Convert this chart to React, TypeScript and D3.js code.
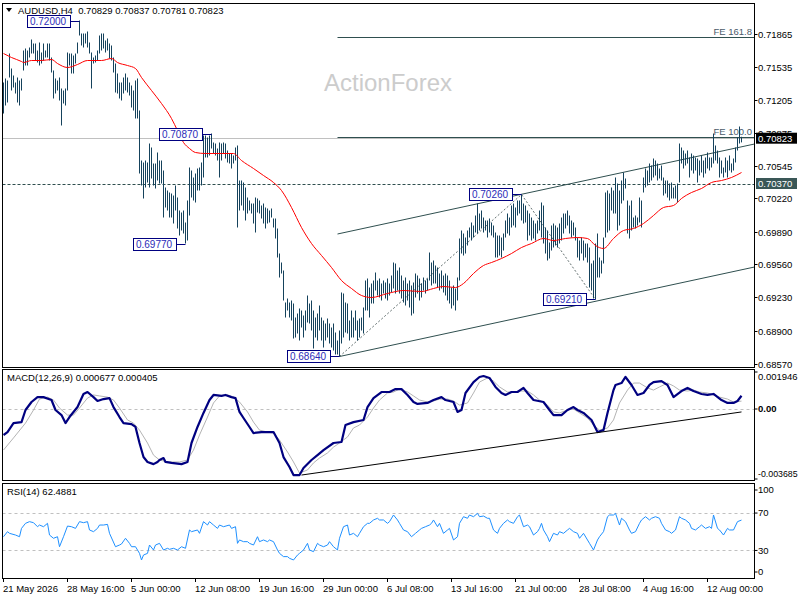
import * as d3 from 'd3';
import { useEffect, useRef } from 'react';

// [high, low] per H4 bar
const hlBars: [number, number][] = [
  [0.7138,0.7107],[0.7142,0.7115],[0.7140,0.7118],[0.7167,0.7143],[0.7152,0.7130],[0.7145,0.7133],[0.7138,0.7127],[0.7143,0.7118],[0.7140,0.7115],[0.7142,0.7130],
  [0.7170,0.7150],[0.7172,0.7155],[0.7170,0.7155],[0.7173,0.7163],[0.7181,0.7167],[0.7177,0.7167],[0.7177,0.7160],[0.7170,0.7158],[0.7178,0.7155],[0.7168,0.7157],
  [0.7177,0.7160],[0.7170,0.7163],[0.7177,0.7163],[0.7177,0.7160],[0.7163,0.7148],[0.7150,0.7122],[0.7142,0.7127],[0.7140,0.7130],[0.7143,0.7120],[0.7132,0.7095],
  [0.7130,0.7117],[0.7132,0.7115],[0.7168,0.7130],[0.7167,0.7155],[0.7167,0.7147],[0.7165,0.7147],[0.7167,0.7157],[0.7178,0.7167],[0.7200,0.7185],[0.7187,0.7175],
  [0.7187,0.7173],[0.7187,0.7177],[0.7189,0.7173],[0.7178,0.7167],[0.7168,0.7132],[0.7163,0.7157],[0.7165,0.7158],[0.7170,0.7160],[0.7185,0.7167],[0.7187,0.7170],
  [0.7187,0.7172],[0.7180,0.7168],[0.7182,0.7170],[0.7177,0.7162],[0.7175,0.7160],[0.7163,0.7148],[0.7157,0.7128],[0.7147,0.7127],[0.7138,0.7122],[0.7138,0.7120],
  [0.7143,0.7127],[0.7147,0.7130],[0.7143,0.7128],[0.7138,0.7125],[0.7135,0.7113],[0.7130,0.7110],[0.7140,0.7102],[0.7142,0.7102],[0.7110,0.7047],[0.7060,0.7035],
  [0.7058,0.7022],[0.7060,0.7033],[0.7058,0.7038],[0.7077,0.7033],[0.7073,0.7042],[0.7057,0.7035],[0.7057,0.7032],[0.7068,0.7040],[0.7060,0.7037],[0.7060,0.7037],
  [0.7050,0.7003],[0.7033,0.7013],[0.7030,0.7010],[0.7028,0.7003],[0.7027,0.7003],[0.7025,0.6997],[0.7035,0.7010],[0.7023,0.6992],[0.7010,0.6985],[0.7008,0.6990],
  [0.7010,0.6987],[0.6998,0.6977],[0.7020,0.6980],[0.7053,0.7005],[0.7050,0.7023],[0.7043,0.7020],[0.7047,0.7018],[0.7052,0.7030],[0.7053,0.7030],[0.7058,0.7035],
  [0.7085,0.7043],[0.7085,0.7063],[0.7083,0.7063],[0.7085,0.7065],[0.7087,0.7072],[0.7078,0.7067],[0.7077,0.7065],[0.7072,0.7060],[0.7078,0.7043],[0.7077,0.7060],
  [0.7078,0.7067],[0.7077,0.7062],[0.7070,0.7058],[0.7067,0.7057],[0.7067,0.7052],[0.7065,0.7057],[0.7073,0.7060],[0.7075,0.6993],[0.7040,0.7010],[0.7040,0.7015],
  [0.7038,0.7010],[0.7033,0.7000],[0.7023,0.7007],[0.7020,0.7010],[0.7017,0.7007],[0.7017,0.6997],[0.7023,0.6988],[0.7022,0.7008],[0.7020,0.7007],[0.7015,0.7002],
  [0.7017,0.6997],[0.7013,0.6992],[0.7012,0.6997],[0.7010,0.6998],[0.7012,0.7003],[0.7002,0.6993],[0.7002,0.6982],[0.6992,0.6963],[0.6967,0.6943],[0.6958,0.6947],
  [0.6950,0.6920],[0.6918,0.6903],[0.6922,0.6910],[0.6918,0.6903],[0.6920,0.6900],[0.6917,0.6882],[0.6903,0.6883],[0.6907,0.6887],[0.6912,0.6880],[0.6910,0.6893],
  [0.6905,0.6883],[0.6910,0.6890],[0.6925,0.6898],[0.6917,0.6897],[0.6920,0.6890],[0.6910,0.6872],[0.6903,0.6883],[0.6907,0.6880],[0.6915,0.6890],[0.6903,0.6880],
  [0.6900,0.6873],[0.6897,0.6880],[0.6902,0.6883],[0.6897,0.6877],[0.6893,0.6873],[0.6897,0.6870],[0.6888,0.6866],[0.6880,0.6866],[0.6890,0.6864],[0.6928,0.6877],
  [0.6927,0.6883],[0.6918,0.6888],[0.6917,0.6887],[0.6900,0.6880],[0.6910,0.6883],[0.6903,0.6883],[0.6910,0.6890],[0.6900,0.6880],[0.6902,0.6883],[0.6903,0.6890],
  [0.6913,0.6887],[0.6940,0.6910],[0.6942,0.6910],[0.6933,0.6903],[0.6937,0.6917],[0.6940,0.6917],[0.6948,0.6930],[0.6940,0.6925],[0.6942,0.6923],[0.6937,0.6920],
  [0.6940,0.6927],[0.6938,0.6922],[0.6942,0.6920],[0.6937,0.6925],[0.6945,0.6928],[0.6958,0.6932],[0.6957,0.6927],[0.6950,0.6930],[0.6953,0.6927],[0.6945,0.6922],
  [0.6940,0.6918],[0.6943,0.6915],[0.6937,0.6920],[0.6940,0.6913],[0.6935,0.6905],[0.6938,0.6907],[0.6947,0.6923],[0.6945,0.6927],[0.6942,0.6920],[0.6937,0.6923],
  [0.6943,0.6930],[0.6940,0.6927],[0.6942,0.6930],[0.6968,0.6940],[0.6958,0.6935],[0.6960,0.6937],[0.6955,0.6937],[0.6953,0.6933],[0.6947,0.6930],[0.6950,0.6932],
  [0.6945,0.6928],[0.6947,0.6925],[0.6945,0.6920],[0.6940,0.6917],[0.6933,0.6912],[0.6935,0.6915],[0.6932,0.6910],[0.6943,0.6920],[0.6982,0.6940],[0.6990,0.6967],
  [0.6987,0.6965],[0.6983,0.6967],[0.6990,0.6975],[0.6993,0.6983],[0.6998,0.6980],[0.6995,0.6983],[0.7005,0.6988],[0.7017,0.6987],[0.7007,0.6990],[0.7010,0.6992],
  [0.7003,0.6988],[0.7000,0.6990],[0.7000,0.6983],[0.7002,0.6988],[0.6998,0.6985],[0.6995,0.6983],[0.6988,0.6963],[0.6985,0.6963],[0.6985,0.6965],[0.6983,0.6963],
  [0.6987,0.6970],[0.7000,0.6983],[0.7007,0.6987],[0.7003,0.6985],[0.7015,0.6993],[0.7017,0.6995],[0.7013,0.6993],[0.7020,0.7005],[0.7020,0.7007],[0.7026,0.7000],
  [0.7017,0.6997],[0.7015,0.6998],[0.7010,0.6980],[0.7007,0.6985],[0.7003,0.6980],[0.7000,0.6982],[0.6997,0.6980],[0.7000,0.6987],[0.7010,0.6990],[0.7018,0.6983],
  [0.7015,0.6977],[0.6993,0.6967],[0.6990,0.6960],[0.6978,0.6962],[0.6995,0.6970],[0.6997,0.6973],[0.6995,0.6975],[0.6993,0.6973],[0.6997,0.6977],[0.7003,0.6980],
  [0.7007,0.6987],[0.7007,0.6992],[0.7010,0.6995],[0.7005,0.6987],[0.7000,0.6983],[0.6998,0.6985],[0.6993,0.6980],[0.6983,0.6963],[0.6980,0.6960],[0.6983,0.6967],
  [0.6980,0.6960],[0.6977,0.6963],[0.6977,0.6958],[0.6973,0.6933],[0.6957,0.6930],[0.6960,0.6922],[0.6977,0.6921],[0.6987,0.6943],[0.6963,0.6943],[0.6960,0.6947],
  [0.6983,0.6957],[0.7028,0.6983],[0.7030,0.6988],[0.7027,0.6990],[0.7033,0.7010],[0.7030,0.7007],[0.7043,0.7007],[0.7037,0.6990],[0.7030,0.6995],[0.7040,0.7017],
  [0.7048,0.7020],[0.7042,0.7032],[0.7020,0.6987],[0.7015,0.6982],[0.7020,0.6990],[0.7003,0.6993],[0.7005,0.6992],[0.7003,0.6995],[0.7023,0.6998],[0.7020,0.6993],
  [0.7043,0.7028],[0.7052,0.7033],[0.7050,0.7035],[0.7057,0.7038],[0.7055,0.7040],[0.7062,0.7043],[0.7060,0.7045],[0.7057,0.7040],[0.7052,0.7042],[0.7055,0.7040],
  [0.7043,0.7025],[0.7040,0.7027],[0.7040,0.7023],[0.7037,0.7020],[0.7038,0.7022],[0.7033,0.7022],[0.7035,0.7022],[0.7037,0.7018],[0.7077,0.7038],[0.7073,0.7057],
  [0.7070,0.7052],[0.7067,0.7055],[0.7070,0.7057],[0.7063,0.7043],[0.7067,0.7050],[0.7065,0.7047],[0.7063,0.7050],[0.7062,0.7038],[0.7060,0.7045],[0.7065,0.7048],
  [0.7060,0.7043],[0.7063,0.7047],[0.7068,0.7052],[0.7063,0.7050],[0.7063,0.7053],[0.7087,0.7057],[0.7075,0.7060],[0.7070,0.7057],[0.7063,0.7043],[0.7060,0.7047],
  [0.7053,0.7043],[0.7063,0.7048],[0.7060,0.7043],[0.7065,0.7050],[0.7057,0.7048],[0.7062,0.7050],[0.7073,0.7058],[0.7083,0.7070],[0.7094,0.7077],[0.70837,0.70781],
];

// moving average (red), [bar, value]
const maPoints: [number, number][] = [
  [0,0.7167],[4,0.7163],[9,0.7159],[10,0.7158],[14,0.7160],[19,0.7160],[24,0.7161],[27,0.7157],[32,0.7153],[37,0.7156],
  [42,0.7160],[49,0.7160],[54,0.7162],[57,0.7158],[62,0.7155],[66,0.7152],[69,0.7143],[74,0.7130],[79,0.7117],[84,0.7102],
  [87,0.7090],[90,0.7078],[93,0.7072],[96,0.7068],[101,0.7067],[109,0.7067],[115,0.7067],[119,0.7060],[125,0.7052],[130,0.7045],
  [135,0.7038],[139,0.7030],[144,0.7013],[149,0.6993],[154,0.6977],[159,0.6965],[164,0.6953],[169,0.6940],[174,0.6932],[179,0.6925],
  [184,0.6923],[192,0.6927],[200,0.6930],[209,0.6929],[215,0.6932],[220,0.6934],[226,0.6933],[230,0.6937],[235,0.6947],[240,0.6955],
  [244,0.6958],[249,0.6962],[254,0.6967],[259,0.6973],[264,0.6977],[270,0.6982],[275,0.6980],[281,0.6982],[287,0.6983],[292,0.6982],
  [296,0.6975],[300,0.6972],[305,0.6982],[310,0.6990],[315,0.6992],[320,0.6997],[325,0.7005],[330,0.7013],[335,0.7015],[339,0.7022],
  [344,0.7028],[349,0.7032],[354,0.7038],[359,0.7040],[364,0.7043],[369,0.7048],
];

const macdMain: [number, number][] = [
  [0,-0.00133],[2,-0.00118],[5,-0.00072],[9,-0.00067],[11,-0.00005],[14,0.00036],[17,0.00061],[20,0.00061],[24,0.00046],[26,-0.00005],
  [29,-0.00031],[31,-0.00072],[33,-0.00041],[35,-0.00015],[37,0.0001],[40,0.00077],[42,0.00087],[45,0.00061],[47,0.00041],[50,0.00051],
  [53,0.00056],[55,0.0001],[58,-0.00041],[60,-0.00072],[64,-0.00077],[66,-0.00092],[68,-0.00174],[70,-0.00246],[72,-0.00271],[75,-0.00282],
  [77,-0.00271],[78,-0.00261],[80,-0.00251],[81,-0.00271],[84,-0.00276],[89,-0.00282],[92,-0.00271],[94,-0.00174],[97,-0.00092],[100,-0.0002],
  [103,0.00046],[105,0.00072],[109,0.00067],[111,0.00072],[114,0.00061],[116,0.00056],[118,-0.00015],[120,-0.00046],[123,-0.00092],[125,-0.00123],
  [129,-0.00118],[132,-0.00118],[135,-0.00118],[138,-0.00174],[140,-0.00246],[143,-0.00297],[145,-0.00338],[148,-0.00338],[150,-0.00302],[154,-0.00261],
  [157,-0.00236],[160,-0.0021],[165,-0.00174],[169,-0.00169],[171,-0.00082],[175,-0.00067],[180,-0.00056],[182,0.0001],[185,0.00056],[189,0.00087],
  [193,0.00087],[196,0.00102],[199,0.00102],[202,0.00072],[205,0.00036],[207,0.00026],[212,0.00031],[215,0.00046],[219,0.00061],[221,0.00046],
  [225,0.00036],[227,-0.00015],[229,-0.00005],[231,0.00082],[235,0.00138],[238,0.00164],[240,0.00169],[243,0.00159],[246,0.00113],[249,0.00082],
  [251,0.00072],[254,0.00087],[257,0.00087],[260,0.00108],[262,0.00082],[265,0.00046],[270,0.00036],[273,-0.00005],[275,-0.00031],[279,-0.00031],
  [282,-0.00005],[285,0.0001],[287,-0.00005],[290,-0.0002],[294,-0.00056],[297,-0.00118],[300,-0.00108],[302,-0.0002],[305,0.00097],[306,0.00123],
  [309,0.00133],[311,0.00164],[314,0.00123],[317,0.00072],[320,0.00082],[323,0.00123],[325,0.00138],[329,0.00143],[332,0.00123],[335,0.00061],
  [339,0.00092],[342,0.00108],[345,0.00092],[349,0.00077],[352,0.00072],[355,0.00077],[359,0.00046],[362,0.00031],[365,0.00031],[367,0.00041],
  [369,0.000677],
];

const macdSignal: [number, number][] = [
  [0,-0.0021],[5,-0.00148],[11,-0.00072],[15,-0.00005],[18,0.00051],[22,0.00061],[25,0.00046],[28,0.00005],[32,-0.00031],[35,-0.00031],
  [38,0.00005],[42,0.00056],[45,0.00072],[48,0.00067],[52,0.00061],[55,0.00046],[58,0.00005],[62,-0.00056],[65,-0.00072],[68,-0.00108],
  [72,-0.00174],[75,-0.00236],[78,-0.00261],[82,-0.00271],[88,-0.00271],[92,-0.00261],[95,-0.0021],[98,-0.00133],[102,-0.00041],[105,0.00031],
  [108,0.00067],[112,0.00072],[115,0.00061],[118,0.00036],[122,-0.00015],[125,-0.00067],[128,-0.00108],[132,-0.00118],[135,-0.00123],[138,-0.00159],
  [142,-0.0022],[145,-0.00271],[148,-0.00328],[152,-0.00312],[155,-0.00276],[158,-0.00251],[162,-0.00225],[165,-0.00195],[168,-0.00174],[172,-0.00143],
  [175,-0.00097],[178,-0.00082],[182,-0.00041],[185,0.00005],[188,0.00046],[192,0.00082],[195,0.00087],[198,0.00102],[202,0.00087],[205,0.00067],
  [208,0.00046],[212,0.00036],[215,0.00041],[218,0.00051],[222,0.00051],[225,0.00041],[228,0.0002],[232,0.00031],[235,0.00082],[238,0.00138],
  [242,0.00159],[245,0.00143],[248,0.00113],[252,0.00087],[255,0.00087],[258,0.00092],[262,0.00092],[265,0.00072],[268,0.00046],[272,0.0002],
  [275,-0.00015],[278,-0.0002],[282,-0.00005],[285,0],[288,-0.0002],[292,-0.00046],[295,-0.00082],[298,-0.00108],[302,-0.00097],[305,-0.00056],
  [308,0.00031],[312,0.00097],[315,0.00133],[318,0.00133],[322,0.00108],[325,0.00097],[328,0.00113],[332,0.00133],[335,0.00118],[338,0.00097],
  [342,0.00092],[345,0.00097],[348,0.00087],[352,0.00082],[355,0.00072],[358,0.00061],[362,0.00051],[365,0.00036],[369,0.000405],
];

const rsiPoints: [number, number][] = [
  [0,44.7],[2,50.1],[3,48.3],[6,46.5],[8,44.7],[9,53.6],[11,59.0],[13,60.8],[15,59.7],[17,55.4],
  [18,57.2],[20,55.4],[22,59.0],[23,46.5],[25,43.0],[27,44.7],[28,34.0],[30,44.7],[32,56.1],[34,55.4],
  [36,53.6],[38,60.8],[40,59.7],[42,60.8],[43,51.9],[45,50.1],[47,53.6],[48,57.2],[50,57.2],[52,57.9],
  [53,48.3],[56,34.0],[58,35.8],[59,36.9],[61,43.0],[63,37.6],[64,34.0],[66,34.0],[68,26.9],[69,19.8],
  [70,25.1],[72,26.9],[73,35.8],[75,30.5],[76,35.8],[78,37.6],[80,30.5],[82,32.3],[83,31.2],[85,32.3],
  [87,30.5],[89,34.0],[91,32.3],[93,51.9],[94,50.1],[97,51.9],[98,48.3],[100,60.8],[102,57.2],[103,60.8],
  [105,57.2],[107,53.6],[108,57.2],[110,55.4],[113,57.2],[114,53.6],[116,55.4],[117,37.6],[118,41.2],[120,39.4],
  [122,39.4],[123,37.6],[125,35.8],[127,44.7],[128,39.4],[130,41.2],[132,39.4],[133,41.2],[135,39.4],[137,30.5],
  [138,26.9],[140,23.4],[142,23.4],[143,21.6],[145,19.8],[147,25.1],[148,26.9],[150,30.5],[152,37.6],[153,30.5],
  [155,28.7],[157,37.6],[158,35.8],[160,34.0],[162,35.8],[163,39.4],[165,34.0],[167,30.5],[168,43.0],[170,55.4],
  [172,57.2],[173,46.5],[175,48.3],[177,44.7],[178,48.3],[180,55.4],[182,59.0],[183,59.0],[185,62.6],[187,64.4],
  [188,62.6],[190,62.6],[192,59.0],[193,60.8],[195,67.9],[197,62.6],[198,59.0],[200,51.9],[202,50.1],[204,44.7],
  [206,48.3],[208,51.9],[209,53.6],[211,55.4],[213,57.2],[214,59.0],[215,62.6],[217,55.4],[218,59.0],[220,48.3],
  [222,51.9],[223,53.6],[225,41.2],[227,44.7],[228,59.0],[230,66.1],[232,64.4],[233,67.9],[235,66.1],[237,69.7],
  [238,66.1],[240,66.8],[242,64.4],[243,64.4],[245,51.9],[247,48.3],[248,53.6],[250,59.0],[252,62.6],[253,60.8],
  [255,59.0],[257,66.1],[258,67.9],[260,55.4],[262,57.2],[263,55.4],[265,46.5],[267,50.1],[268,53.6],[269,59.0],
  [270,51.9],[272,44.7],[273,39.4],[275,48.3],[277,46.5],[278,50.1],[280,48.3],[282,51.9],[283,53.6],[285,50.1],
  [287,48.3],[288,43.0],[290,48.3],[292,41.2],[293,37.6],[295,30.5],[297,41.2],[298,44.7],[300,50.1],[302,66.1],
  [303,67.9],[305,67.9],[306,69.7],[308,57.2],[309,64.4],[311,60.8],[313,51.9],[314,48.3],[316,50.1],[318,59.0],
  [319,62.6],[321,66.1],[323,62.6],[324,64.4],[326,66.1],[328,64.4],[329,59.0],[331,51.9],[333,50.1],[334,48.3],
  [336,51.9],[338,66.1],[339,64.4],[341,62.6],[343,59.0],[344,53.6],[346,51.9],[348,55.4],[349,57.2],[351,53.6],
  [353,55.4],[354,53.6],[355,67.9],[357,53.6],[358,51.9],[360,46.5],[362,53.6],[363,51.9],[365,51.9],[367,60.8],
  [369,62.4881],
];

const priceTicks = [0.71865, 0.71535, 0.71205, 0.70875, 0.70545, 0.7022, 0.6989, 0.6956, 0.6923, 0.689, 0.6857];
const priceRange = [0.68565, 0.71865];
const macdRange = [-0.003685, 0.001946];
const rsiTicks = [100, 70, 30, 0];
const rsiLevels = [70, 30];

const dateTickBars = [0, 32, 64, 96, 128, 160, 192, 224, 256, 288, 320, 352];
const dateLabels = ['21 May 2026', '28 May 16:00', '5 Jun 00:00', '12 Jun 08:00', '19 Jun 16:00', '29 Jun 00:00',
  '6 Jul 08:00', '13 Jul 16:00', '21 Jul 00:00', '28 Jul 08:00', '4 Aug 16:00', '12 Aug 00:00'];

const pivots: [number, number][] = [[38, 0.72], [104, 0.7087], [91, 0.6977], [168, 0.6864], [259, 0.7026], [296, 0.6921]];
const channelLines: [number, number][][] = [
  [[168, 0.6864], [375.5, 0.69535]],
  [[167, 0.69865], [375.5, 0.70765]],
];
const feSwing: [number, number][] = [[168, 0.6864], [259, 0.7026], [296, 0.6921]];
const feLevels: [string, number][] = [['FE 161.8', 0.71831], ['FE 100.0', 0.7083]];
const feStartBar = 167;
const bidPrice = 0.70823;
const levelPrice = 0.7037;
const macdTrend: [number, number][] = [[149, -0.00338], [369, -0.00015]];

const symbolHeader = 'AUDUSD,H4  0.70829 0.70837 0.70781 0.70823';
const macdHeader = 'MACD(12,26,9) 0.000677 0.000405';
const rsiHeader = 'RSI(14) 62.4881';

export default function App() {
  const svgRef = useRef<SVGSVGElement>(null);

  useEffect(() => {
    if (!svgRef.current) return;
    const svg = d3.select(svgRef.current);
    svg.selectAll('*').remove();

    const font = '"Liberation Sans", Arial, sans-serif';
    const fs = 9.5;
    const L = 2.5, R = 754.5;
    const slate = '#2f4f4f';

    const x = d3.scaleLinear().domain([0, hlBars.length - 1]).range([3.5, 741.5]);
    const y = d3.scaleLinear().domain(priceRange).range([364, 34]);
    const yM = d3.scaleLinear().domain(macdRange).range([481, 371]);
    const yR = d3.scaleLinear().domain([0, 100]).range([578.5, 485]);

    svg.append('rect').attr('width', 800).attr('height', 600).attr('fill', '#fff');

    const defs = svg.append('defs');
    defs.append('clipPath').attr('id', 'clip-main')
      .append('rect').attr('x', 3).attr('y', 4).attr('width', R - 3.5).attr('height', 363);
    defs.append('clipPath').attr('id', 'clip-macd')
      .append('rect').attr('x', 3).attr('y', 370).attr('width', R - 3.5).attr('height', 110);
    defs.append('clipPath').attr('id', 'clip-rsi')
      .append('rect').attr('x', 3).attr('y', 484).attr('width', R - 3.5).attr('height', 94);

    // ---- main panel ----
    const g = svg.append('g').attr('clip-path', 'url(#clip-main)');

    g.append('text').attr('x', 324).attr('y', 91).text('ActionForex')
      .attr('font-family', font).attr('font-size', 24).attr('fill', '#cccccc');

    const hline = (p: number, x0: number, color: string, dash?: string) => {
      const l = g.append('line')
        .attr('x1', x0).attr('x2', R)
        .attr('y1', Math.round(y(p)) + 0.5).attr('y2', Math.round(y(p)) + 0.5)
        .attr('stroke', color).attr('stroke-width', 1);
      if (dash) l.attr('stroke-dasharray', dash);
    };
    hline(bidPrice, L, '#c0c0c0');
    hline(levelPrice, L, slate, '3,2');
    feLevels.forEach(([label, p]) => {
      hline(p, x(feStartBar), slate);
      g.append('text').attr('x', 752).attr('y', y(p) - 2.5).attr('text-anchor', 'end')
        .attr('font-family', font).attr('font-size', fs).attr('fill', '#4a5a6a').text(label);
    });

    const pline = d3.line<[number, number]>().x((d) => x(d[0])).y((d) => y(d[1]));
    channelLines.forEach((c) => {
      g.append('path').attr('d', pline(c) as string).attr('fill', 'none')
        .attr('stroke', slate).attr('stroke-width', 1);
    });
    g.append('path').attr('d', pline(feSwing) as string).attr('fill', 'none')
      .attr('stroke', '#3a4a4a').attr('stroke-width', 0.8).attr('stroke-dasharray', '2,2');

    g.append('g').selectAll('line').data(hlBars).join('line')
      .attr('x1', (_, i) => x(i)).attr('x2', (_, i) => x(i))
      .attr('y1', (d) => y(d[0])).attr('y2', (d) => y(d[1]))
      .attr('stroke', '#15425c').attr('stroke-width', 1);

    g.append('path')
      .attr('d', pline.curve(d3.curveMonotoneX)(maPoints) as string)
      .attr('fill', 'none').attr('stroke', '#ff0000').attr('stroke-width', 1);
    pline.curve(d3.curveLinear);

    // swing labels
    pivots.forEach(([bar, p]) => {
      const bx = x(bar);
      const py = Math.round(y(p)) + 0.5;
      const w = 43;
      g.append('line').attr('x1', bx - 10).attr('x2', bx).attr('y1', py).attr('y2', py)
        .attr('stroke', '#000080');
      g.append('rect').attr('x', Math.round(bx - 10 - w) + 0.5).attr('y', py - 6)
        .attr('width', w).attr('height', 12).attr('fill', '#fff').attr('stroke', '#000080');
      g.append('text').attr('x', bx - 10 - w / 2).attr('y', py + 3.5).attr('text-anchor', 'middle')
        .attr('font-family', font).attr('font-size', fs + 0.5).attr('fill', '#2b2bb8').text(p.toFixed(5));
    });

    // header
    svg.append('path').attr('d', 'M6,8 L12,8 L9,12 Z').attr('fill', '#000');
    svg.append('text').attr('x', 18).attr('y', 14).attr('font-family', font).attr('font-size', fs)
      .attr('fill', '#000').attr('xml:space', 'preserve').text(symbolHeader);

    // ---- MACD panel ----
    const gm = svg.append('g').attr('clip-path', 'url(#clip-macd)');
    gm.append('line').attr('x1', L).attr('x2', R).attr('y1', Math.round(yM(0)) + 0.5).attr('y2', Math.round(yM(0)) + 0.5)
      .attr('stroke', '#c0c0c0').attr('stroke-dasharray', '3,3');
    const mline = d3.line<[number, number]>().x((d) => x(d[0])).y((d) => yM(d[1]));
    gm.append('path').attr('d', mline(macdSignal) as string).attr('fill', 'none')
      .attr('stroke', '#b4b4b4').attr('stroke-width', 1);
    gm.append('path').attr('d', mline(macdMain) as string).attr('fill', 'none')
      .attr('stroke', '#000080').attr('stroke-width', 2.2).attr('stroke-linejoin', 'round');
    gm.append('path').attr('d', mline(macdTrend) as string).attr('fill', 'none')
      .attr('stroke', '#000').attr('stroke-width', 1);
    svg.append('text').attr('x', 7).attr('y', 381).attr('font-family', font).attr('font-size', fs)
      .attr('fill', '#000').text(macdHeader);

    // ---- RSI panel ----
    const gr = svg.append('g').attr('clip-path', 'url(#clip-rsi)');
    rsiLevels.forEach((v) => {
      gr.append('line').attr('x1', L).attr('x2', R).attr('y1', Math.round(yR(v)) + 0.5).attr('y2', Math.round(yR(v)) + 0.5)
        .attr('stroke', '#c0c0c0').attr('stroke-dasharray', '3,3');
    });
    const rline = d3.line<[number, number]>().x((d) => x(d[0])).y((d) => yR(d[1]));
    gr.append('path').attr('d', rline(rsiPoints) as string).attr('fill', 'none')
      .attr('stroke', '#1e90ff').attr('stroke-width', 1);
    svg.append('text').attr('x', 7).attr('y', 495).attr('font-family', font).attr('font-size', fs)
      .attr('fill', '#000').text(rsiHeader);

    // ---- frames ----
    [[3.5, 367.5], [369.5, 480.5], [483.5, 578.5]].forEach(([t, b]) => {
      svg.append('rect').attr('x', L).attr('y', t).attr('width', R - L).attr('height', b - t)
        .attr('fill', 'none').attr('stroke', '#000').attr('stroke-width', 1);
    });

    // ---- right axes ----
    const axisText = (ty: number, label: string, weight = 'normal', size = fs) =>
      svg.append('text').attr('x', 758).attr('y', ty).attr('dy', '0.35em')
        .attr('font-family', font).attr('font-size', size).attr('font-weight', weight)
        .attr('fill', '#000').text(label);

    // the 0.70875 label sits under the bid box, as in the terminal
    priceTicks.forEach((p) => {
      const ty = Math.round(y(p)) + 0.5;
      svg.append('line').attr('x1', R).attr('x2', R + 3).attr('y1', ty).attr('y2', ty).attr('stroke', '#000');
      if (Math.abs(p - bidPrice) > 0.0002) axisText(ty, p.toFixed(5));
      else axisText(ty - 3, p.toFixed(5));
    });

    [[bidPrice, '#000'], [levelPrice, '#3a5757']].forEach(([p, c]) => {
      const ty = y(p as number);
      svg.append('rect').attr('x', 756).attr('y', ty - 5.5).attr('width', 41).attr('height', 11).attr('fill', c as string);
      svg.append('text').attr('x', 758).attr('y', ty).attr('dy', '0.35em').attr('font-family', font)
        .attr('font-size', fs).attr('fill', '#fff').text((p as number).toFixed(5));
    });

    axisText(377, macdRange[1].toFixed(6));
    axisText(yM(0), '0.00', 'bold');
    axisText(474, macdRange[0].toFixed(6), 'normal', 8.8);
    [macdRange[1], 0, macdRange[0]].forEach((v) => {
      const ty = Math.min(Math.max(yM(v), 372), 479);
      svg.append('line').attr('x1', R).attr('x2', R + 3).attr('y1', ty).attr('y2', ty).attr('stroke', '#000');
    });

    rsiTicks.forEach((v) => {
      const ty = Math.min(Math.max(yR(v), 490), 572);
      svg.append('line').attr('x1', R).attr('x2', R + 3).attr('y1', ty).attr('y2', ty).attr('stroke', '#000');
      axisText(ty, String(v));
    });

    // ---- time axis ----
    dateTickBars.forEach((b, i) => {
      const tx = x(b);
      svg.append('line').attr('x1', tx).attr('x2', tx).attr('y1', 578.5).attr('y2', 582).attr('stroke', '#000');
      svg.append('text').attr('x', tx - 0.5).attr('y', 592).attr('font-family', font).attr('font-size', fs)
        .attr('fill', '#000').text(dateLabels[i]);
    });
  }, []);

  return (
    <div style={{ position: 'absolute', left: 0, top: 0, width: 800, height: 600, background: '#fff' }}>
      <svg ref={svgRef} width={800} height={600} />
    </div>
  );
}
